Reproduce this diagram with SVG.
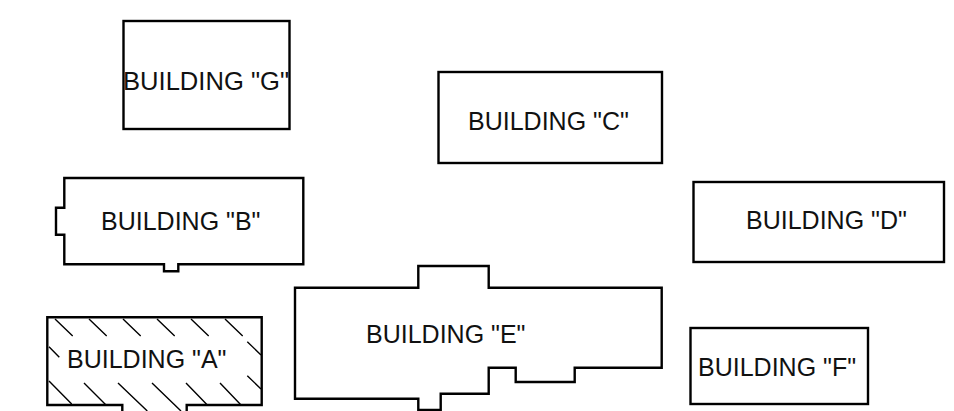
<svg xmlns="http://www.w3.org/2000/svg" width="954" height="411" viewBox="0 0 954 411">
<style>
.o{fill:none;stroke:#000;stroke-width:2.4;stroke-linejoin:miter}
.h{fill:none;stroke:#000;stroke-width:1.4}
text{font-family:"Liberation Sans",Arial,sans-serif;font-size:20px;fill:#111}
</style>
<rect width="954" height="411" fill="#fff"/>
<g id="building-g"><rect class="o" x="123.500" y="21" width="166" height="108"/><text x="123" y="90" textLength="166" lengthAdjust="spacingAndGlyphs" style="font-size:25px">BUILDING "G"</text></g>
<g id="building-c"><rect class="o" x="438.500" y="72" width="223.500" height="91"/><text x="468" y="130" style="font-size:25px">BUILDING "C"</text></g>
<g id="building-b"><path class="o" d="M64.300 178H303.300V264.300H178.300V271.300H164V264.300H64.300V234.700H56V207.700H64.300Z"/><text x="101" y="230" style="font-size:25px">BUILDING "B"</text></g>
<g id="building-d"><rect class="o" x="693.500" y="182" width="250.500" height="80"/><text x="746" y="229" style="font-size:25px">BUILDING "D"</text></g>
<g id="building-a">
<path class="h" d="M55 319L72.700 336M89 319L106.700 336M123 319L140.700 336M157 319L174.700 336M191 319L208.700 336M225 319L242.700 336M247.300 341.700L261 355M49 346.700L59.300 357.300M49 381L71.700 404M84 383L106 405M118 383L147.300 411M152 383L181 411M186 383L207.300 405M220 383L241 405M247.300 375.700L261 389"/>
<path class="o" d="M122.300 411V405H47.300V317.300H261.700V405H186.700V411"/>
<text x="67" y="368" style="font-size:25px">BUILDING "A"</text></g>
<g id="building-e"><path class="o" d="M295 287.700H418.300V266H488.700V287.700H661.700V367.700H574.700V382H515.700V367.700H488.700V393.700H440.700V410H418.300V398.700H295Z"/><text x="366" y="343" style="font-size:25px">BUILDING "E"</text></g>
<g id="building-f"><rect class="o" x="690.500" y="328" width="177.500" height="76"/><text x="698" y="376" style="font-size:25px">BUILDING "F"</text></g>
</svg>
